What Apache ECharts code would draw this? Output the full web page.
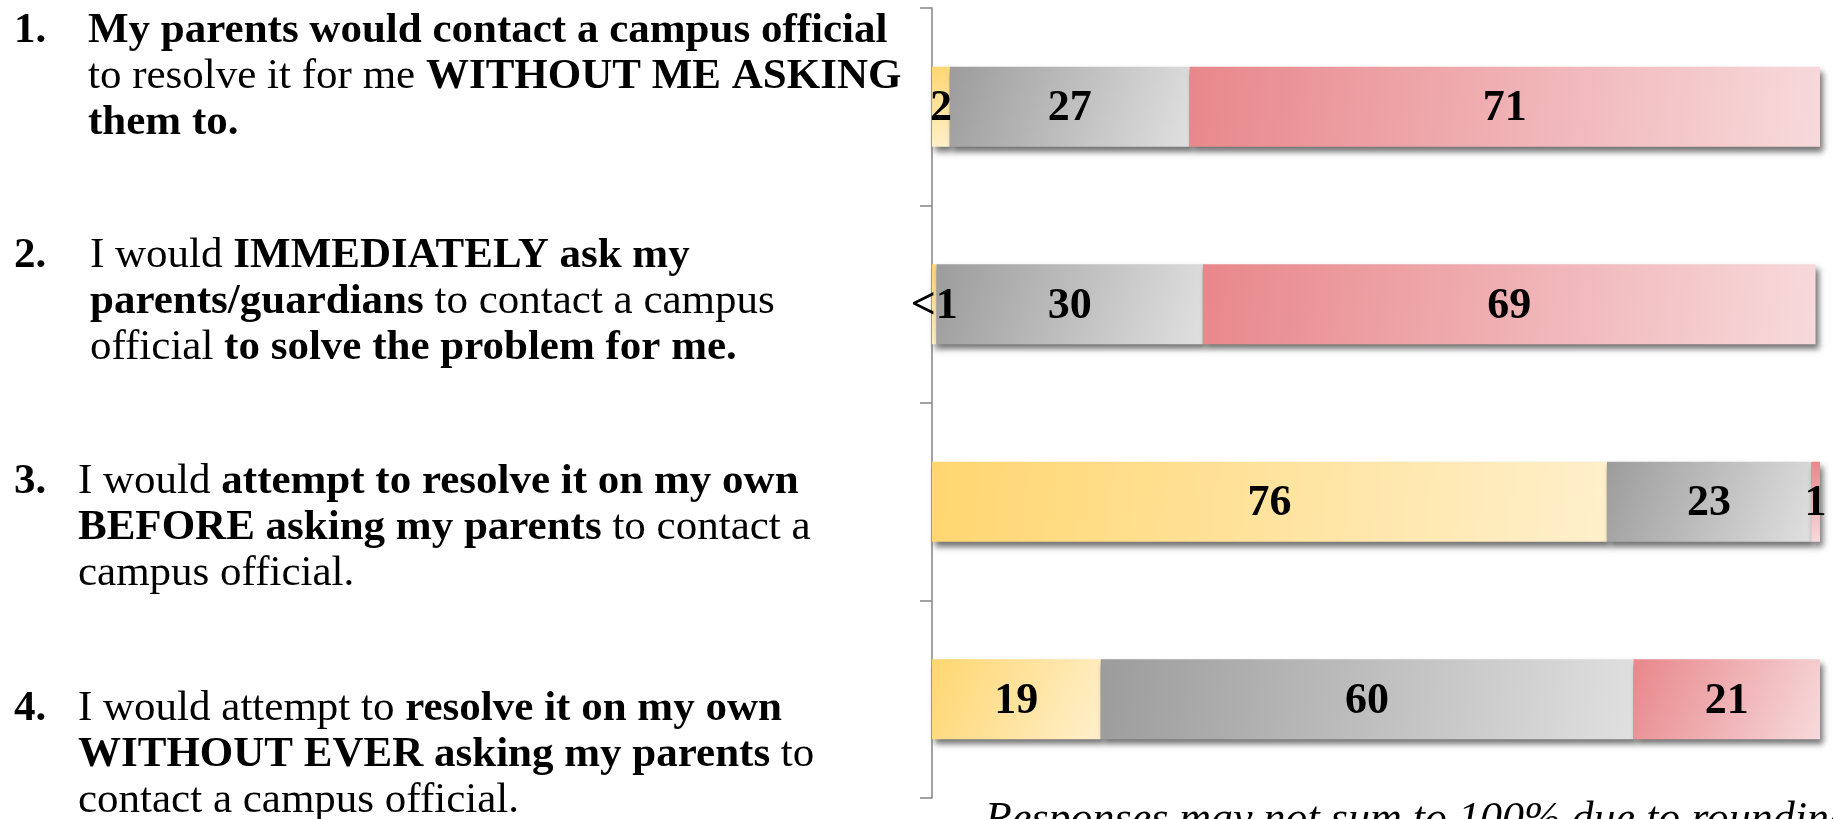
<!DOCTYPE html>
<html>
<head>
<meta charset="utf-8">
<script src="https://cdn.jsdelivr.net/npm/echarts@6/dist/echarts.min.js"></script>
<style>
  html, body { margin: 0; padding: 0; background: #fff; }
  #chart { width: 1833px; height: 819px; }
</style>
</head>
<body>
<div id="chart"></div>
<script>
var categories = ['Q1', 'Q2', 'Q3', 'Q4'];
var yellowValues = [2, 0.5, 76, 19];
var grayValues = [27, 30, 23, 60];
var redValues = [71, 69, 1, 21];
var yellowLabels = ['2', '<1', '76', '19'];
var grayLabels = ['27', '30', '23', '60'];
var redLabels = ['71', '69', '1', '21'];

var serif = "'Times New Roman', 'Liberation Serif', serif";

function grad(c1, c2) {
  return new echarts.graphic.LinearGradient(0, 0, 1, 1, [
    { offset: 0, color: c1 },
    { offset: 1, color: c2 }
  ]);
}

function makeSeries(name, values, labels, c1, c2) {
  return {
    name: name,
    type: 'bar',
    stack: 'total',
    barWidth: 80,
    data: values,
    itemStyle: {
      color: grad(c1, c2),
      shadowColor: 'rgba(0,0,0,0.55)',
      shadowBlur: 6,
      shadowOffsetX: 3,
      shadowOffsetY: 5
    },
    label: {
      show: true,
      position: 'inside',
      offset: [0, 2],
      color: '#000',
      fontFamily: serif,
      fontWeight: 'bold',
      fontSize: 44,
      formatter: function (p) { return labels[p.dataIndex]; }
    }
  };
}

var rich = {
  b: { fontFamily: serif, fontWeight: 'bold', fontSize: 43, lineHeight: 46, color: '#000' },
  n: { fontFamily: serif, fontWeight: 'normal', fontSize: 43, lineHeight: 46, color: '#000' }
};

function textBlock(x, y, txt) {
  return {
    type: 'text', x: x, y: y,
    style: { text: txt, rich: rich, verticalAlign: 'top', align: 'left' }
  };
}

var chart = echarts.init(document.getElementById('chart'));
chart.setOption({
  backgroundColor: '#fff',
  animation: false,
  grid: { left: 932, top: 8, width: 888, height: 790 },
  xAxis: { type: 'value', min: 0, max: 100, show: false },
  yAxis: {
    type: 'category',
    data: categories,
    inverse: true,
    axisLine: { show: true, lineStyle: { color: '#858585', width: 1.5 } },
    axisTick: { show: true, length: 12, lineStyle: { color: '#858585', width: 1.5 } },
    axisLabel: { show: false }
  },
  series: [
    makeSeries('Yes', yellowValues, yellowLabels, '#FFD670', '#FFF0CC'),
    makeSeries('Neutral', grayValues, grayLabels, '#9C9C9C', '#E0E0E0'),
    makeSeries('No', redValues, redLabels, '#E8878B', '#F7DADC')
  ],
  graphic: [
    textBlock(14, 8, '{b|1.}'),
    textBlock(88, 8, '{b|My parents would contact a campus official}\n{n|to resolve it for me }{b|WITHOUT ME ASKING}\n{b|them to.}'),
    textBlock(14, 233, '{b|2.}'),
    textBlock(90, 233, '{n|I would }{b|IMMEDIATELY ask my}\n{b|parents/guardians}{n| to contact a campus}\n{n|official }{b|to solve the problem for me.}'),
    textBlock(14, 459, '{b|3.}'),
    textBlock(78, 459, '{n|I would }{b|attempt to resolve it on my own}\n{b|BEFORE asking my parents}{n| to contact a}\n{n|campus official.}'),
    textBlock(14, 686, '{b|4.}'),
    textBlock(78, 686, '{n|I would attempt to }{b|resolve it on my own}\n{b|WITHOUT EVER asking my parents}{n| to}\n{n|contact a campus official.}'),
    {
      type: 'text', x: 985, y: 796,
      style: {
        text: 'Responses may not sum to 100% due to rounding',
        fontFamily: serif, fontStyle: 'italic', fontSize: 44, lineHeight: 48,
        fill: '#000', verticalAlign: 'top', align: 'left'
      }
    }
  ]
});
</script>
</body>
</html>
